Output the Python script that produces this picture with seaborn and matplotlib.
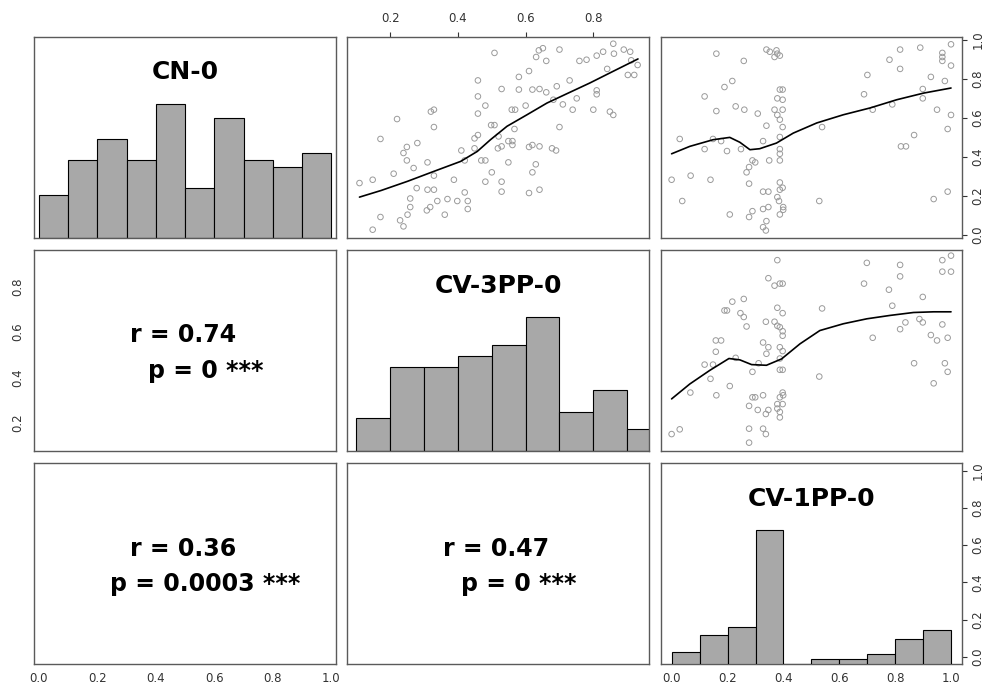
import numpy as np
import pandas as pd
import seaborn as sns
import matplotlib.pyplot as plt

sns.set_style("white")
plt.rcParams['font.family'] = ['DejaVu Sans']
plt.rcParams['text.color'] = 'black'

# variables and axis ranges
names = ["CN-0", "CV-3PP-0", "CV-1PP-0"]
lims = [(-0.015, 1.015), (0.073, 0.964), (-0.039, 1.039)]

# histogram bins and counts (diagonal)
cn_edges = [0.0, 0.1, 0.2, 0.3, 0.4, 0.5, 0.6, 0.7, 0.8, 0.9, 1.0]
cn_counts = [6, 11, 14, 11, 19, 7, 17, 11, 10, 12]
cv3_edges = [0.1, 0.2, 0.3, 0.4, 0.5, 0.6, 0.7, 0.8, 0.9, 1.0]
cv3_counts = [6, 15, 15, 17, 19, 24, 7, 11, 4]
cv1_edges = [0.0, 0.1, 0.2, 0.3, 0.4, 0.5, 0.6, 0.7, 0.8, 0.9, 1.0]
cv1_counts = [5, 12, 15, 54, 0, 2, 2, 4, 10, 14]

# CV-3PP-0 (x) vs CN-0 (y)
s01_x = [0.109, 0.148, 0.171, 0.148, 0.171, 0.210, 0.220, 0.229, 0.239, 0.239, 0.249, 0.249,
         0.251, 0.259, 0.259, 0.269, 0.278, 0.280, 0.308, 0.310, 0.310, 0.318, 0.320, 0.329,
         0.329, 0.329, 0.329, 0.339, 0.361, 0.369, 0.388, 0.398, 0.410, 0.420, 0.420, 0.429,
         0.429, 0.449, 0.449, 0.459, 0.459, 0.459, 0.459, 0.469, 0.481, 0.481, 0.481, 0.498,
         0.508, 0.500, 0.508, 0.518, 0.520, 0.529, 0.529, 0.529, 0.529, 0.549, 0.549, 0.559,
         0.561, 0.561, 0.569, 0.567, 0.580, 0.580, 0.600, 0.610, 0.610, 0.610, 0.620, 0.620,
         0.620, 0.630, 0.631, 0.639, 0.651, 0.641, 0.641, 0.641, 0.661, 0.661, 0.678, 0.690,
         0.682, 0.692, 0.700, 0.700, 0.710, 0.730, 0.739, 0.751, 0.759, 0.780, 0.800, 0.810,
         0.810, 0.810, 0.829, 0.841, 0.849, 0.859, 0.859, 0.861, 0.890, 0.909, 0.902, 0.921,
         0.912, 0.931]
s01_y = [0.265, 0.282, 0.491, 0.026, 0.091, 0.313, 0.593, 0.074, 0.043, 0.419, 0.450, 0.381,
         0.103, 0.186, 0.142, 0.342, 0.239, 0.470, 0.125, 0.371, 0.231, 0.142, 0.631, 0.641,
         0.552, 0.303, 0.231, 0.173, 0.103, 0.183, 0.282, 0.173, 0.432, 0.217, 0.381, 0.173,
         0.132, 0.443, 0.494, 0.511, 0.791, 0.709, 0.621, 0.381, 0.381, 0.662, 0.272, 0.562,
         0.562, 0.320, 0.932, 0.443, 0.504, 0.272, 0.221, 0.453, 0.747, 0.371, 0.480, 0.641,
         0.480, 0.460, 0.641, 0.542, 0.809, 0.744, 0.662, 0.839, 0.450, 0.214, 0.744, 0.460,
         0.320, 0.361, 0.911, 0.945, 0.956, 0.747, 0.453, 0.231, 0.891, 0.730, 0.443, 0.432,
         0.692, 0.761, 0.949, 0.552, 0.668, 0.791, 0.641, 0.699, 0.891, 0.897, 0.641, 0.918,
         0.740, 0.720, 0.938, 0.850, 0.631, 0.614, 0.979, 0.928, 0.949, 0.938, 0.819, 0.819,
         0.894, 0.870]
fit01_x = [0.109, 0.173, 0.251, 0.329, 0.408, 0.457, 0.496, 0.545, 0.604, 0.663, 0.722, 0.790, 0.859, 0.932]
fit01_y = [0.193, 0.227, 0.274, 0.325, 0.376, 0.427, 0.487, 0.556, 0.615, 0.675, 0.723, 0.778, 0.838, 0.901]

# CV-1PP-0 (x) vs CN-0 (y)
s02_x = [0.000, 0.038, 0.029, 0.068, 0.118, 0.118, 0.139, 0.148, 0.160, 0.160, 0.177, 0.189,
         0.198, 0.208, 0.217, 0.229, 0.248, 0.258, 0.260, 0.268, 0.277, 0.277, 0.277, 0.289,
         0.289, 0.299, 0.308, 0.327, 0.327, 0.327, 0.327, 0.337, 0.339, 0.339, 0.339, 0.346,
         0.346, 0.349, 0.351, 0.368, 0.368, 0.375, 0.378, 0.378, 0.378, 0.378, 0.384, 0.387,
         0.387, 0.387, 0.387, 0.387, 0.387, 0.387, 0.387, 0.387, 0.387, 0.397, 0.397, 0.397,
         0.397, 0.397, 0.399, 0.399, 0.528, 0.538, 0.688, 0.700, 0.719, 0.779, 0.789, 0.817,
         0.817, 0.820, 0.838, 0.867, 0.889, 0.898, 0.898, 0.927, 0.937, 0.949, 0.968, 0.968,
         0.968, 0.977, 0.987, 0.987, 0.999, 0.999, 0.999]
s02_y = [0.282, 0.173, 0.491, 0.303, 0.709, 0.439, 0.282, 0.491, 0.928, 0.634, 0.480, 0.757,
         0.429, 0.104, 0.788, 0.658, 0.439, 0.891, 0.641, 0.320, 0.347, 0.262, 0.091, 0.121,
         0.381, 0.371, 0.621, 0.480, 0.221, 0.132, 0.039, 0.022, 0.070, 0.559, 0.949, 0.221,
         0.142, 0.381, 0.938, 0.911, 0.641, 0.945, 0.928, 0.699, 0.614, 0.193, 0.173, 0.918,
         0.744, 0.590, 0.501, 0.439, 0.415, 0.381, 0.268, 0.231, 0.104, 0.744, 0.692, 0.641,
         0.552, 0.241, 0.142, 0.128, 0.173, 0.552, 0.720, 0.819, 0.641, 0.897, 0.668, 0.949,
         0.850, 0.453, 0.453, 0.511, 0.959, 0.699, 0.747, 0.809, 0.183, 0.641, 0.932, 0.911,
         0.891, 0.788, 0.542, 0.221, 0.976, 0.867, 0.614]
fit02_x = [0.000, 0.065, 0.148, 0.208, 0.244, 0.280, 0.315, 0.375, 0.435, 0.519, 0.614, 0.710, 0.805, 0.901, 0.999]
fit02_y = [0.415, 0.453, 0.487, 0.499, 0.474, 0.436, 0.441, 0.470, 0.521, 0.573, 0.615, 0.650, 0.692, 0.726, 0.752]

# CV-1PP-0 (x) vs CV-3PP-0 (y)
s12_x = [0.000, 0.029, 0.067, 0.118, 0.139, 0.148, 0.158, 0.158, 0.160, 0.177, 0.189, 0.198,
         0.208, 0.217, 0.229, 0.246, 0.258, 0.258, 0.268, 0.277, 0.277, 0.277, 0.289, 0.289,
         0.299, 0.308, 0.311, 0.327, 0.327, 0.327, 0.337, 0.337, 0.337, 0.339, 0.346, 0.346,
         0.346, 0.368, 0.368, 0.378, 0.378, 0.378, 0.378, 0.378, 0.387, 0.387, 0.387, 0.387,
         0.387, 0.387, 0.387, 0.387, 0.397, 0.397, 0.397, 0.397, 0.397, 0.397, 0.397, 0.397,
         0.399, 0.528, 0.538, 0.688, 0.698, 0.719, 0.777, 0.789, 0.817, 0.817, 0.817, 0.836,
         0.867, 0.886, 0.898, 0.898, 0.927, 0.937, 0.949, 0.968, 0.968, 0.968, 0.977, 0.987,
         0.987, 0.999, 0.999]
s12_y = [0.148, 0.169, 0.332, 0.456, 0.393, 0.456, 0.563, 0.513, 0.320, 0.563, 0.696, 0.696,
         0.361, 0.735, 0.486, 0.684, 0.747, 0.667, 0.625, 0.273, 0.172, 0.110, 0.424, 0.311,
         0.311, 0.255, 0.462, 0.554, 0.320, 0.172, 0.646, 0.237, 0.148, 0.504, 0.839, 0.533,
         0.255, 0.806, 0.646, 0.919, 0.708, 0.628, 0.281, 0.261, 0.815, 0.622, 0.533, 0.483,
         0.433, 0.311, 0.246, 0.222, 0.815, 0.684, 0.604, 0.584, 0.516, 0.433, 0.332, 0.281,
         0.320, 0.403, 0.705, 0.815, 0.907, 0.575, 0.788, 0.717, 0.898, 0.847, 0.613, 0.643,
         0.462, 0.658, 0.756, 0.643, 0.587, 0.373, 0.563, 0.919, 0.868, 0.634, 0.462, 0.575,
         0.424, 0.939, 0.868]
fit12_x = [0.000, 0.065, 0.136, 0.205, 0.244, 0.286, 0.339, 0.393, 0.459, 0.530, 0.614, 0.698, 0.781, 0.865, 0.937, 0.999]
fit12_y = [0.304, 0.370, 0.430, 0.483, 0.477, 0.456, 0.453, 0.481, 0.548, 0.607, 0.637, 0.659, 0.674, 0.687, 0.690, 0.690]

# correlation labels (lower panels)
r_labels = {(1, 0): "r = 0.74", (2, 0): "r = 0.36", (2, 1): "r = 0.47"}
p_labels = {(1, 0): "p = 0 ***", (2, 0): "p = 0.0003 ***", (2, 1): "p = 0 ***"}

hists = [(cn_edges, cn_counts), (cv3_edges, cv3_counts), (cv1_edges, cv1_counts)]
scatters = {(0, 1): (s01_x, s01_y, fit01_x, fit01_y),
            (0, 2): (s02_x, s02_y, fit02_x, fit02_y),
            (1, 2): (s12_x, s12_y, fit12_x, fit12_y)}

W, H = 984, 687
fig = plt.figure(figsize=(W / 100, H / 100), dpi=100)
col_left = [34.3, 347.3, 660.7]
row_top = [36.7, 250.0, 463.3]
pw, ph = 301.5, 201.0

frame_col = "#5a5a5a"
tick_col = "#333333"
ticks01 = [0.0, 0.2, 0.4, 0.6, 0.8, 1.0]

axes = {}
for i in range(3):
    for j in range(3):
        ax = fig.add_axes([col_left[j] / W, 1 - (row_top[i] + ph) / H, pw / W, ph / H])
        ax.set_xlim(lims[j])
        ax.set_ylim(lims[i])
        ax.set_xticks([])
        ax.set_yticks([])
        for sp in ax.spines.values():
            sp.set_color(frame_col)
            sp.set_linewidth(1.0)
        ax.tick_params(length=3.5, width=0.8, color=tick_col, labelsize=8.5,
                       labelcolor=tick_col)
        axes[(i, j)] = ax

# diagonal histograms + titles
for k in range(3):
    ax = axes[(k, k)]
    edges, counts = hists[k]
    centers = [(edges[n] + edges[n + 1]) / 2 for n in range(len(counts))]
    hax = ax.twinx() if k == 2 else ax
    sns.histplot(x=centers, weights=counts, bins=edges, ax=hax, color="#a8a8a8",
                 edgecolor="black", linewidth=0.8, alpha=1)
    hax.set_ylim(0, 1.5 * max(counts))
    hax.set_xlim(lims[k])
    hax.set_ylabel("")
    if k == 2:
        hax.set_yticks([])
        for sp in hax.spines.values():
            sp.set_visible(False)
    ax.text(0.5, 0.822, names[k], transform=ax.transAxes, ha="center", va="center",
            fontsize=18, fontweight="bold", color="black")

# upper panels: scatter + smooth
for (i, j), (sx, sy, fx, fy) in scatters.items():
    ax = axes[(i, j)]
    sns.scatterplot(x=sx, y=sy, ax=ax, marker="o", s=16, facecolors="none",
                    edgecolor="#9a9a9a", linewidth=0.7)
    sns.lineplot(x=fx, y=fy, ax=ax, color="black", linewidth=1.2, sort=False,
                 estimator=None)

# lower panels: correlation text
for key in r_labels:
    ax = axes[key]
    ax.text(0.495, 0.54, r_labels[key], transform=ax.transAxes, ha="center",
            va="baseline", fontsize=17, fontweight="bold", color="black")
    ax.text(0.568, 0.365, p_labels[key], transform=ax.transAxes, ha="center",
            va="baseline", fontsize=17, fontweight="bold", color="black")

def fmt(vals):
    return [f"{v:.1f}" for v in vals]

# outer axes, R style
ax = axes[(0, 1)]
ax.xaxis.tick_top()
ax.set_xticks([0.2, 0.4, 0.6, 0.8], fmt([0.2, 0.4, 0.6, 0.8]))
ax.tick_params(axis="x", pad=5)

ax = axes[(0, 2)]
ax.yaxis.tick_right()
ax.set_yticks(ticks01, fmt(ticks01))
ax.tick_params(axis="y", labelrotation=90, pad=3)

ax = axes[(1, 0)]
ax.set_yticks([0.2, 0.4, 0.6, 0.8], fmt([0.2, 0.4, 0.6, 0.8]))
ax.tick_params(axis="y", labelrotation=90, pad=4)
for t in ax.get_yticklabels():
    t.set_va("center")

ax = axes[(2, 0)]
ax.set_xticks(ticks01, fmt(ticks01))
ax.tick_params(axis="x", pad=2)

ax = axes[(2, 2)]
ax.set_xticks(ticks01, fmt(ticks01))
ax.tick_params(axis="x", pad=2)
ax.yaxis.tick_right()
ax.set_yticks(ticks01, fmt(ticks01))
ax.tick_params(axis="y", labelrotation=90, pad=3)

for t in axes[(0, 2)].get_yticklabels() + axes[(2, 2)].get_yticklabels():
    t.set_va("center")

fig.savefig("out.png", dpi=100, facecolor="white")
